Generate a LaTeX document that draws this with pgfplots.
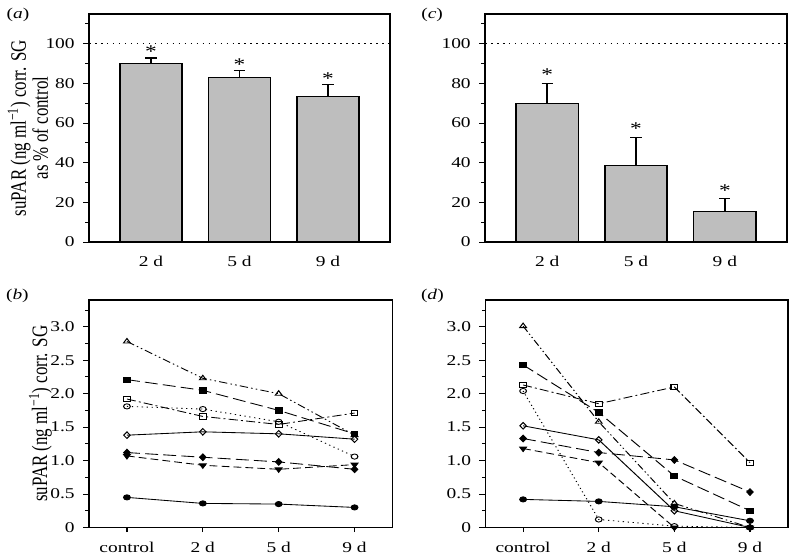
\documentclass[border=0pt]{standalone}
\usepackage{fontspec}
\setmainfont{Liberation Serif}
\usepackage{graphicx}
\usepackage{pgfplots}
\usepackage{pgfplotstable}
\pgfplotsset{compat=1.18}
\definecolor{barg}{RGB}{190,190,190}
\tikzset{star/.style={anchor=center, font=\fontsize{18}{18}\selectfont}}

\pgfplotstableread{
x y e
1 90.0 2.8
2 83.0 3.4
3 73.4 5.9
}\dataA
\pgfplotstableread{
x y e
1 70.0 10.1
2 38.8 14.0
3 15.2 6.9
}\dataC

\begin{document}
\scalebox{1.3}[1]{%
\begin{tikzpicture}[font=\fontsize{15}{17}\selectfont]
\pgfplotsset{
  base/.style={scale only axis, anchor=south west, clip=false,
    axis line style={line width=1.2bp},
    tick style={black, line width=0.9bp},
    tick align=outside, tick pos=left,
    major tick length=4.5bp, minor tick length=2.7bp,
    /pgf/number format/assume math mode=true,
    ticklabel style={font=\fontsize{15}{17}\selectfont},
    label style={font=\fontsize{17}{17}\selectfont},
    yticklabel style={xshift=-3bp}},
  bars/.style={base, height=228bp, xmin=0.3, xmax=3.7, ymin=0, ymax=115,
    ytick={0,20,40,60,80,100}, minor ytick={10,30,50,70,90,110},
    xtick={1,2,3}, xticklabels={2 d,5 d,9 d}, major x tick style={draw=none},
    xticklabel style={yshift=-6bp}},
  lines/.style={base, height=227.5bp, xmin=-0.5, xmax=3.5, ymin=0, ymax=3.4,
    ytick={0,0.5,1,1.5,2,2.5,3}, yticklabels={0,0.5,1.0,1.5,2.0,2.5,3.0},
    minor ytick={0.25,0.75,1.25,1.75,2.25,2.75,3.25},
    xtick={0,1,2,3}, xticklabels={control,2 d,5 d,9 d},
    xticklabel style={yshift=-7bp}},
  barplot/.style={ybar, bar width=0.7, fill=barg, draw=black, line width=1.1bp,
    error bars/.cd, y dir=plus, y explicit,
    error bar style={line width=1.2bp, black},
    error mark options={rotate=90, mark size=4.3bp, line width=1.2bp, black}},
  ref100/.style={black, line width=1.5bp, dash pattern=on 1.2bp off 3.4bp},
  lw/.style={black, line width=0.85bp},
  sFC/.style={lw, solid, mark=*, mark size=2.6bp, mark options={solid, fill=black}},
  sOD/.style={lw, solid, mark=diamond, mark size=3.3bp, mark options={solid, fill=white}},
  sFD/.style={lw, dash pattern=on 10bp off 4bp, mark=diamond*, mark size=3.3bp, mark options={solid, fill=black}},
  sFT/.style={lw, dash pattern=on 6bp off 3.2bp, mark=triangle*, mark size=3bp, mark options={solid, rotate=180, fill=black}},
  sOC/.style={lw, dash pattern=on 1bp off 2.8bp, mark=o, mark size=2.6bp, mark options={solid, fill=white}},
  sOS/.style={lw, dash pattern=on 7bp off 2.5bp on 1.5bp off 2.5bp, mark=square, mark size=2.6bp, mark options={solid, fill=white}},
  sFS/.style={lw, dash pattern=on 10bp off 4bp, mark=square*, mark size=2.6bp, mark options={solid, fill=black}},
  sOT/.style={lw, dash pattern=on 6.5bp off 2.5bp on 1.2bp off 2.5bp on 1.2bp off 2.5bp, mark=triangle, mark size=3bp, mark options={solid, fill=white}},
}
\path[use as bounding box] (0,0) rectangle (606.92bp,557bp);

% (a)
\begin{axis}[bars, at={(68.46bp,315bp)}, width=231.54bp,
  ylabel={suPAR (ng ml\textsuperscript{−1}) corr. SG\\as \% of control},
  ylabel style={at={(axis description cs:-0.203,0.5)}, anchor=center, align=center}]
\addplot[ref100] coordinates {(0.3,100) (3.7,100)};
\addplot[barplot] table[x=x, y=y, y error=e] {\dataA};
\node[star] at (axis cs:1,96) {*};
\node[star] at (axis cs:2,89.5) {*};
\node[star] at (axis cs:3,82.5) {*};
\node at (axis description cs:-0.236,0.995) {(\textit{a})};
\end{axis}

% (c)
\begin{axis}[bars, at={(373.08bp,315bp)}, width=232.31bp]
\addplot[ref100] coordinates {(0.3,100) (3.7,100)};
\addplot[barplot] table[x=x, y=y, y error=e] {\dataC};
\node[star] at (axis cs:1,84.5) {*};
\node[star] at (axis cs:2,57) {*};
\node[star] at (axis cs:3,26) {*};
\node at (axis description cs:-0.175,0.995) {(\textit{c})};
\end{axis}

% (b)
\begin{axis}[lines, at={(68.46bp,29.5bp)}, width=233.46bp,
  ylabel={suPAR (ng ml\textsuperscript{−1}) corr. SG},
  ylabel style={at={(axis description cs:-0.16,0.5)}, anchor=center}]
\addplot[sOT] coordinates {(0,2.78) (1,2.23) (2,2.00) (3,1.38)};
\addplot[sFS] coordinates {(0,2.21) (1,2.05) (2,1.75) (3,1.40)};
\addplot[sOS] coordinates {(0,1.92) (1,1.66) (2,1.54) (3,1.71)};
\addplot[sOC] coordinates {(0,1.81) (1,1.77) (2,1.58) (3,1.06)};
\addplot[sOD] coordinates {(0,1.38) (1,1.43) (2,1.40) (3,1.32)};
\addplot[sFD] coordinates {(0,1.12) (1,1.05) (2,0.98) (3,0.87)};
\addplot[sFT] coordinates {(0,1.07) (1,0.93) (2,0.87) (3,0.94)};
\addplot[sFC] coordinates {(0,0.45) (1,0.36) (2,0.35) (3,0.30)};
\node at (axis description cs:-0.236,1.02) {(\textit{b})};
\end{axis}

% (d)
\begin{axis}[lines, at={(373.31bp,29.5bp)}, width=232.69bp]
\addplot[sOT] coordinates {(0,3.01) (1,1.58) (2,0.36) (3,0.0)};
\addplot[sFS] coordinates {(0,2.43) (1,1.72) (2,0.77) (3,0.25)};
\addplot[sOS] coordinates {(0,2.13) (1,1.85) (2,2.10) (3,0.97)};
\addplot[sOC] coordinates {(0,2.04) (1,0.12) (2,0.02) (3,0.0)};
\addplot[sFT] coordinates {(0,1.18) (1,0.97) (2,0.0) (3,0.0)};
\addplot[sFD] coordinates {(0,1.33) (1,1.12) (2,1.01) (3,0.53)};
\addplot[sFC] coordinates {(0,0.42) (1,0.39) (2,0.31) (3,0.10)};
\addplot[sOD] coordinates {(0,1.52) (1,1.31) (2,0.25) (3,0.0)};
\node at (axis description cs:-0.175,1.02) {(\textit{d})};
\end{axis}
\end{tikzpicture}}
\end{document}
